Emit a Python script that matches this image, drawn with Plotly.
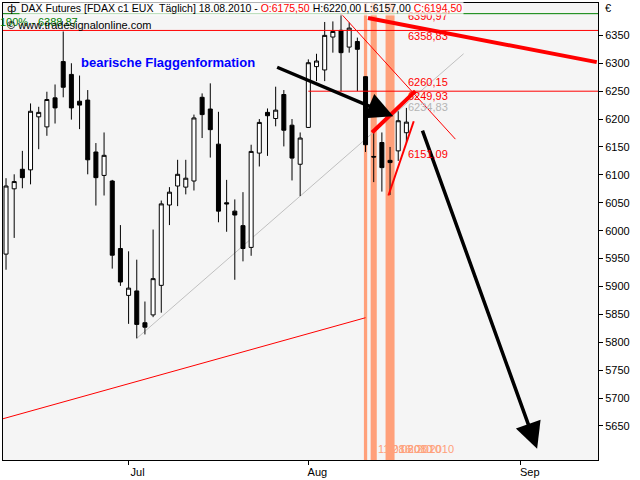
import plotly.graph_objects as go

# ---------------- data ----------------
dates = ["2010-06-10", "2010-06-11", "2010-06-14", "2010-06-15", "2010-06-16", "2010-06-17",
         "2010-06-18", "2010-06-21", "2010-06-22", "2010-06-23", "2010-06-24", "2010-06-25",
         "2010-06-28", "2010-06-29", "2010-06-30", "2010-07-01", "2010-07-02", "2010-07-05",
         "2010-07-06", "2010-07-07", "2010-07-08", "2010-07-09", "2010-07-12", "2010-07-13",
         "2010-07-14", "2010-07-15", "2010-07-16", "2010-07-19", "2010-07-20", "2010-07-21",
         "2010-07-22", "2010-07-23", "2010-07-26", "2010-07-27", "2010-07-28", "2010-07-29",
         "2010-07-30", "2010-08-02", "2010-08-03", "2010-08-04", "2010-08-05", "2010-08-06",
         "2010-08-09", "2010-08-10", "2010-08-11", "2010-08-12", "2010-08-13", "2010-08-16",
         "2010-08-17", "2010-08-18"]

opens = [5958, 6075, 6110, 6109, 6204, 6186, 6238, 6303, 6280, 6232,
         6234, 6141, 6099, 6089, 5968, 5884, 5892, 5835, 5849, 5902,
         6046, 6080, 6078, 6089, 6239, 6218, 6155, 6050, 6035, 6009,
         5970, 6139, 6212, 6201, 6244, 6189, 6119, 6185, 6294, 6288,
         6347, 6359, 6329, 6339, 6276, 6133, 6158, 6126, 6143, 6175.5]
highs = [6094, 6101, 6143, 6228, 6222, 6249, 6262, 6357, 6300, 6278,
         6252, 6157, 6176, 6091, 6010, 5963, 5948, 5873, 6002, 6054,
         6078, 6127, 6127, 6208, 6246, 6264, 6213, 6091, 6056, 6069,
         6154, 6200, 6219, 6258, 6252, 6200, 6176, 6307, 6317, 6374,
         6375, 6389, 6373, 6346, 6277, 6176, 6176, 6150, 6214, 6220]
lows = [5930, 5987, 6076, 6083, 6146, 6170, 6192, 6239, 6199, 6182,
        6101, 6045, 6063, 5932, 5901, 5833, 5807, 5814, 5845, 5853,
        6010, 6044, 6065, 6072, 6166, 6131, 6015, 5998, 5912, 5945,
        5955, 6115, 6134, 6187, 6151, 6090, 6062, 6184, 6268, 6268,
        6319, 6250, 6319, 6250, 6141, 6087, 6070, 6064, 6125, 6157]
closes = [6080, 6088, 6095, 6214, 6212, 6235, 6220, 6257, 6220, 6225,
          6127, 6095, 6135, 5956, 5908, 5897, 5832, 5827, 5914, 6048,
          6069, 6101, 6094, 6202, 6208, 6181, 6035, 6048, 6028, 5968,
          6142, 6194, 6206, 6216, 6180, 6130, 6166, 6301, 6304, 6350,
          6357, 6319, 6363, 6325, 6154, 6132, 6113, 6122, 6197, 6194.5]

bar_index = list(range(len(dates)))

# month ticks (bar index; future area counts calendar days)
month_tick_pos = [15, 37, 63]
month_tick_text = ["Jul", "Aug", "Sep"]
price_ticks = [5650, 5700, 5750, 5800, 5850, 5900, 5950, 6000, 6050, 6100,
               6150, 6200, 6250, 6300, 6350]

# horizontal levels
level_100 = 6388.87
level_red_top = 6358.83
level_red_mid = 6249.93
level_red_mid_start = 37

# highlighted days (bar index centre, width in bars)
highlight_center = [44, 45, 47]
highlight_width = [0.4, 0.75, 1.1]
highlight_labels = ["11.08.2010", "12.08.2010", "16.08.2010"]
highlight_label_x = [45.3, 46.3, 47.9]

# trend lines: (x0, y0, x1, y1) in bar index / price
line_thick_down = (44.3, 6381, 72.3, 6302)
line_thin_down = (41, 6389, 55, 6164)
line_grey_up = (16, 5807, 56, 6317)
line_red_long = (-0.6, 5662, 44, 5844)
flag_upper = (44.8, 6176, 50.1, 6250)
flag_lower = (46.8, 6063, 49.9, 6196)

# arrows: (tail_x, tail_y, tip_x, tip_y)
arrow_1 = (33.0, 6294, 47.4, 6205)
arrow_2 = (50.9, 6182, 65.0, 5609)

# level labels (x, y, text, color)
level_labels = [
    (48.9, 6384, "6390,97", "red"),
    (48.9, 6349, "6358,83", "red"),
    (48.9, 6267, "6260,15", "red"),
    (48.9, 6241, "6249,93", "red"),
    (48.9, 6221, "6234,83", "#b4b4b4"),
    (48.9, 6137, "6151,09", "red"),
]

# ---------------- figure ----------------
FONT = "Liberation Sans"
SALMON = "#FFA07A"

fig = go.Figure()
fig.add_trace(go.Candlestick(
    x=bar_index, open=opens, high=highs, low=lows, close=closes,
    increasing=dict(line=dict(color="black", width=1), fillcolor="white"),
    decreasing=dict(line=dict(color="black", width=1), fillcolor="black"),
    whiskerwidth=0, showlegend=False, hoverinfo="skip",
))

shapes = []
for c, w in zip(highlight_center, highlight_width):
    shapes.append(dict(type="rect", xref="x", yref="paper", x0=c - w / 2, x1=c + w / 2,
                       y0=0, y1=1, fillcolor=SALMON, line=dict(width=0), layer="below"))

shapes.append(dict(type="line", xref="x", yref="y", x0=line_grey_up[0], y0=line_grey_up[1],
                   x1=line_grey_up[2], y1=line_grey_up[3],
                   line=dict(color="#c0c0c0", width=1), layer="below"))
shapes.append(dict(type="line", xref="paper", yref="y", x0=0, x1=1, y0=level_100, y1=level_100,
                   line=dict(color="#008000", width=1)))
shapes.append(dict(type="line", xref="paper", yref="y", x0=0, x1=1, y0=level_red_top,
                   y1=level_red_top, line=dict(color="red", width=1)))
shapes.append(dict(type="line", xref="x", yref="y", x0=level_red_mid_start, x1=80,
                   y0=level_red_mid, y1=level_red_mid, line=dict(color="red", width=1)))
for ln, wd in [(line_red_long, 1), (line_thin_down, 1), (line_thick_down, 4),
               (flag_upper, 4), (flag_lower, 2)]:
    shapes.append(dict(type="line", xref="x", yref="y", x0=ln[0], y0=ln[1], x1=ln[2], y1=ln[3],
                       line=dict(color="red", width=wd)))

annotations = []
for tx, ty, hx, hy in [arrow_1, arrow_2]:
    annotations.append(dict(x=hx, y=hy, ax=tx, ay=ty, xref="x", yref="y", axref="x", ayref="y",
                            showarrow=True, arrowhead=2, arrowsize=1.5, arrowwidth=3.5,
                            arrowcolor="black", text=""))
for x, y, t, col in level_labels:
    annotations.append(dict(x=x, y=y, xref="x", yref="y", text=t, showarrow=False,
                            xanchor="left", yanchor="middle",
                            font=dict(family=FONT, size=11, color=col)))
for x, t in zip(highlight_label_x, highlight_labels):
    annotations.append(dict(x=x, y=5608, xref="x", yref="y", text=t, showarrow=False,
                            xanchor="left", yanchor="middle",
                            font=dict(family=FONT, size=11, color=SALMON)))

annotations.append(dict(x=8.9, y=6301, xref="x", yref="y", text="<b>bearische Flaggenformation</b>",
                        showarrow=False, xanchor="left", yanchor="middle",
                        font=dict(family=FONT, size=13, color="#0000ff")))
annotations.append(dict(x=-0.009, y=0.958, xref="paper", yref="paper", text="100% - 6388.87",
                        showarrow=False, xanchor="left", yanchor="middle",
                        font=dict(family=FONT, size=11, color="#008000")))
annotations.append(dict(x=0.0035, y=0.951, xref="paper", yref="paper",
                        text="© www.tradesignalonline.com", showarrow=False,
                        xanchor="left", yanchor="middle",
                        font=dict(family=FONT, size=11, color="black")))
header = ("DAX Futures [FDAX c1 EUX  Täglich] 18.08.2010 - "
          "<span style='color:red'>O:6175,50</span> H:6220,00 L:6157,00 "
          "<span style='color:red'>C:6194,50</span>")
annotations.append(dict(x=0.027, y=0.988, xref="paper", yref="paper", text=header,
                        showarrow=False, xanchor="left", yanchor="middle",
                        bgcolor="rgba(255,255,255,0.7)", borderpad=1,
                        font=dict(family=FONT, size=10.5, color="black")))
annotations.append(dict(x=0.004, y=0.988, xref="paper", yref="paper", text="ф",
                        showarrow=False, xanchor="left", yanchor="middle",
                        font=dict(family="DejaVu Sans", size=11, color="black")))
annotations.append(dict(x=1.008, y=0.99, xref="paper", yref="paper", text="€",
                        showarrow=False, xanchor="left", yanchor="middle",
                        font=dict(family=FONT, size=11, color="black")))

fig.update_layout(
    width=640, height=480, autosize=False,
    margin=dict(l=2, r=42, t=3, b=17, pad=0),
    paper_bgcolor="white", plot_bgcolor="#f5f5f5",
    shapes=shapes, annotations=annotations, showlegend=False,
    font=dict(family=FONT, size=11, color="black"),
    xaxis=dict(range=[-0.37, 72.45], showgrid=False, zeroline=False, showline=True,
               linecolor="black", linewidth=1, mirror=True, ticks="outside", ticklen=4,
               tickcolor="black", tickvals=month_tick_pos, ticktext=month_tick_text,
               ticklabelshift=9, ticklabelstandoff=-2, rangeslider=dict(visible=False),
               tickfont=dict(family=FONT, size=11, color="black")),
    yaxis=dict(range=[5589, 6408], side="right", showgrid=False, zeroline=False, showline=True,
               linecolor="black", linewidth=1, mirror=True, ticks="outside", ticklen=4,
               tickcolor="black", tickvals=price_ticks,
               ticktext=[str(v) for v in price_ticks],
               tickfont=dict(family=FONT, size=11, color="black")),
)

fig.write_html("out.html", config={"displayModeBar": False},
               post_script="document.body.style.margin='0';")
